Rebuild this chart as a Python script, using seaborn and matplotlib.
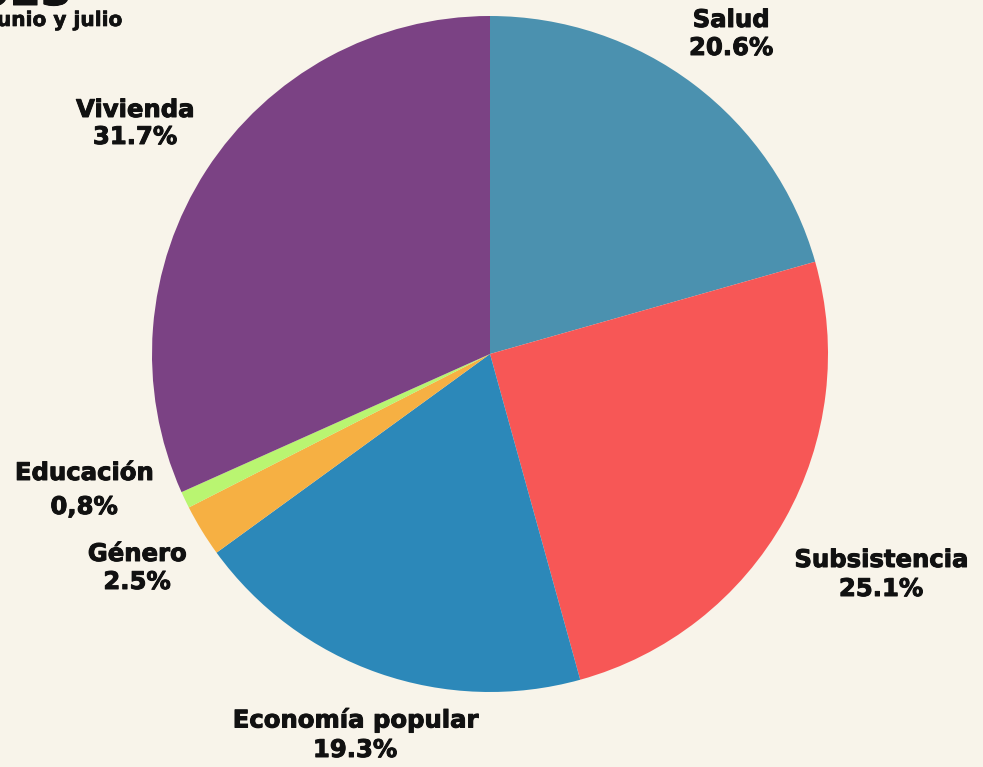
import matplotlib
matplotlib.use("Agg")
import matplotlib.pyplot as plt
import matplotlib.patheffects as pe
import seaborn as sns

# Distribution by category (percent of total)
categories = ["Salud", "Subsistencia", "Economía popular", "Género", "Educación", "Vivienda"]
values = [20.6, 25.1, 19.3, 2.5, 0.8, 31.7]
decimal_sep = [".", ".", ".", ".", ",", "."]
title_year = "2023"
subtitle = "junio y julio"

colors = ["#4B91AF", "#F75756", "#2C88B9", "#F6B043", "#B9F571", "#7B4284"]
bg = "#F8F4EA"
ink = "#111111"

sns.set_theme(style="white", rc={"figure.facecolor": bg, "axes.facecolor": bg})
plt.rcParams["font.family"] = ["DejaVu Sans"]

W, H = 983, 767
fig = plt.figure(figsize=(W / 100, H / 100), dpi=100)
ax = fig.add_axes([0, 0, 1, 1])

ax.pie(values, colors=colors, startangle=90, counterclock=False,
       center=(490, H - 354), radius=338, frame=True,
       wedgeprops=dict(linewidth=0))
ax.set_xlim(0, W)
ax.set_ylim(0, H)
ax.set_aspect("equal")
ax.axis("off")

# slightly heavier strokes for the bold labels
heavy = [pe.withStroke(linewidth=0.7, foreground=ink)]

# label anchor points (pixels from top-left): x, name line y, percent line y
label_xy = [(731, 20, 48), (881, 560, 589), (355, 720, 750),
            (137, 554, 582), (84, 473, 507), (135, 110, 137)]
txt = dict(ha="center", va="center", fontsize=17.5, fontweight="bold",
           color=ink, path_effects=heavy)
for cat, v, sep, (x, y1, y2) in zip(categories, values, decimal_sep, label_xy):
    pct = f"{v:.1f}%".replace(".", sep)
    ax.text(x, H - y1, cat, **txt)
    ax.text(x, H - y2, pct, **txt)

ax.text(72, H - 5, title_year, ha="right", va="baseline",
        fontsize=32, fontweight="bold", color=ink, path_effects=heavy)
ax.text(123, H - 26, subtitle, ha="right", va="baseline",
        fontsize=14.5, fontweight="bold", color=ink,
        path_effects=[pe.withStroke(linewidth=0.5, foreground=ink)])

fig.savefig("out.png", dpi=100, facecolor=bg)
